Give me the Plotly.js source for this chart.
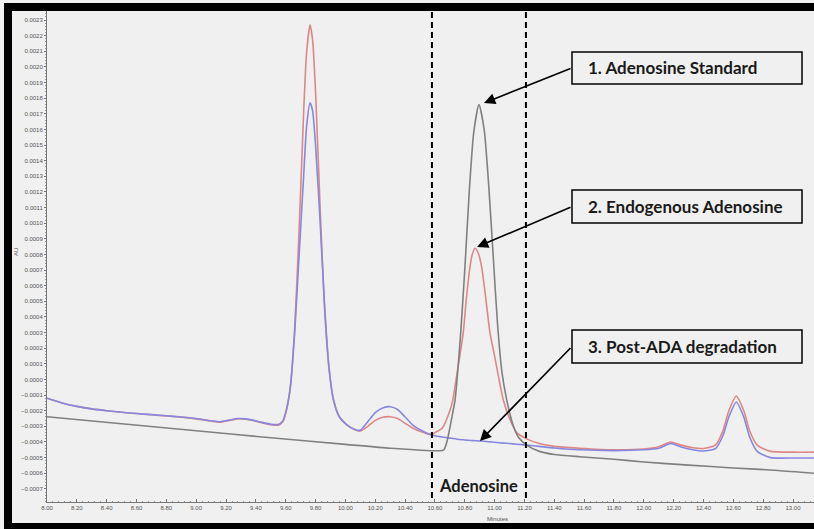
<!DOCTYPE html>
<html>
<head>
<meta charset="utf-8">
<script src="https://cdn.plot.ly/plotly-3.0.1.min.js"></script>
<style>
  html, body { margin: 0; padding: 0; background: #f8f8f8; overflow: hidden; }
  #wrap { position: relative; width: 814px; height: 529px; background: #f0f0f0; }
  #chart { position: absolute; left: 0; top: 0; width: 814px; height: 529px; }
  .bar { position: absolute; background: #000; z-index: 5; }
</style>
</head>
<body>
<div id="wrap">
  <div id="chart"></div>
  <div class="bar" style="left:4px; top:3px; width:810px; height:8px;"></div>
  <div class="bar" style="left:4px; top:3px; width:8px; height:526px;"></div>
  <div class="bar" style="left:4px; top:523px; width:810px; height:6px;"></div>
</div>
<script>
// ---- Data ----
const sampleMinutes = [8.00, 8.10, 8.20, 8.30, 8.40, 8.50, 8.60, 8.70, 8.80, 8.90, 9.00, 9.10, 9.16, 9.22, 9.28, 9.33, 9.38, 9.44, 9.50, 9.55, 9.58, 9.60, 9.63, 9.66, 9.69, 9.72, 9.74, 9.763, 9.78, 9.80, 9.83, 9.86, 9.89, 9.92, 9.96, 10.01, 10.06, 10.10, 10.15, 10.20, 10.25, 10.30, 10.35, 10.40, 10.45, 10.50, 10.55, 10.58, 10.60, 10.65, 10.70, 10.72, 10.75, 10.79, 10.81, 10.835, 10.85, 10.869, 10.89, 10.913, 10.942, 10.969, 11.00, 11.058, 11.10, 11.148, 11.215, 11.30, 11.40, 11.57, 11.80, 12.00, 12.10, 12.18, 12.25, 12.32, 12.40, 12.48, 12.53, 12.57, 12.62, 12.67, 12.71, 12.76, 12.85, 13.00, 13.14];

const endogenousAU = [-0.000120, -0.000150, -0.000172, -0.000188, -0.000200, -0.000210, -0.000218, -0.000226, -0.000233, -0.000241, -0.000252, -0.000266, -0.000273, -0.000262, -0.000252, -0.000254, -0.000262, -0.000277, -0.000290, -0.000292, -0.000270, -0.000218, -0.000052, 0.000325, 0.000961, 0.001706, 0.002094, 0.002270, 0.002173, 0.001840, 0.001110, 0.000460, 0.000070, -0.000130, -0.000240, -0.000290, -0.000320, -0.000330, -0.000300, -0.000262, -0.000242, -0.000238, -0.000250, -0.000280, -0.000310, -0.000332, -0.000348, -0.000352, -0.000340, -0.000310, -0.000200, -0.000130, 0.000050, 0.000300, 0.000510, 0.000720, 0.000800, 0.000840, 0.000810, 0.000720, 0.000510, 0.000300, 0.000150, -0.000130, -0.000250, -0.000340, -0.000380, -0.000410, -0.000428, -0.000440, -0.000450, -0.000445, -0.000430, -0.000400, -0.000420, -0.000435, -0.000442, -0.000420, -0.000330, -0.000200, -0.000106, -0.000200, -0.000330, -0.000420, -0.000460, -0.000465, -0.000465];

const postADA_AU = [-0.000120, -0.000150, -0.000172, -0.000188, -0.000200, -0.000210, -0.000218, -0.000225, -0.000232, -0.000240, -0.000250, -0.000264, -0.000270, -0.000260, -0.000250, -0.000252, -0.000260, -0.000274, -0.000286, -0.000288, -0.000265, -0.000210, -0.000060, 0.000300, 0.000800, 0.001300, 0.001620, 0.001770, 0.001720, 0.001500, 0.001020, 0.000480, 0.000080, -0.000130, -0.000240, -0.000290, -0.000318, -0.000325, -0.000270, -0.000212, -0.000182, -0.000174, -0.000192, -0.000240, -0.000290, -0.000322, -0.000345, -0.000355, -0.000360, -0.000368, -0.000375, -0.000378, -0.000382, -0.000386, -0.000388, -0.000390, -0.000391, -0.000392, -0.000393, -0.000394, -0.000397, -0.000399, -0.000402, -0.000407, -0.000410, -0.000414, -0.000420, -0.000428, -0.000438, -0.000450, -0.000455, -0.000450, -0.000440, -0.000410, -0.000432, -0.000448, -0.000458, -0.000442, -0.000360, -0.000240, -0.000144, -0.000240, -0.000370, -0.000460, -0.000500, -0.000502, -0.000502];

const standardMinutes = [8.00, 8.50, 9.00, 9.50, 10.00, 10.30, 10.63, 10.66, 10.68, 10.70, 10.72, 10.735, 10.77, 10.80, 10.83, 10.86, 10.895, 10.93, 10.96, 10.99, 11.02, 11.05, 11.081, 11.12, 11.16, 11.215, 11.30, 11.40, 11.57, 11.80, 12.00, 12.30, 12.60, 12.90, 13.14];
const standardAU = [-0.000238, -0.000283, -0.000328, -0.000373, -0.000415, -0.000440, -0.000456, -0.000450, -0.000400, -0.000310, -0.000210, -0.000130, 0.000260, 0.000700, 0.001200, 0.001580, 0.001760, 0.001600, 0.001250, 0.000800, 0.000350, 0.000040, -0.000130, -0.000280, -0.000370, -0.000420, -0.000460, -0.000480, -0.000494, -0.000510, -0.000528, -0.000548, -0.000566, -0.000582, -0.000600];

const windowMinutes = [10.58, 11.21];          // dashed adenosine window
const windowLabel = "Adenosine";
const calloutLabels = ["1. Adenosine Standard", "2. Endogenous Adenosine", "3. Post-ADA degradation"];
const xTitle = "Minutes";
const yTitle = "AU";

// ---- Layout geometry (pixels of the 814x529 canvas) ----
const W = 814, H = 529;
const M = { l: 47, r: 0, t: 11, b: 27 };
const plotW = W - M.l - M.r, plotH = H - M.t - M.b;
const px2paperX = px => (px - M.l) / plotW;
const px2paperY = py => (H - M.b - py) / plotH;

const traces = [
  { x: sampleMinutes, y: endogenousAU, type: 'scatter', mode: 'lines', name: 'Endogenous',
    line: { color: 'rgb(222,135,135)', width: 1.6, shape: 'spline', smoothing: 0.6 }, hoverinfo: 'skip' },
  { x: sampleMinutes, y: postADA_AU, type: 'scatter', mode: 'lines', name: 'Post-ADA',
    line: { color: 'rgb(135,135,222)', width: 1.6, shape: 'spline', smoothing: 0.6 }, hoverinfo: 'skip' },
  { x: standardMinutes, y: standardAU, type: 'scatter', mode: 'lines', name: 'Standard',
    line: { color: 'rgb(128,128,128)', width: 1.6, shape: 'spline', smoothing: 0.6 }, hoverinfo: 'skip' }
];

const tickFont = { family: 'Liberation Sans, Arial, sans-serif', size: 6, color: '#555' };
const boxFont = { family: 'Lato, sans-serif', size: 17, color: '#1a1a1a', weight: 'bold' };
const windowFont = { family: 'Lato, sans-serif', size: 16.5, color: '#1a1a1a', weight: 'bold' };

// callout boxes (pixel rectangles)
const boxes = [
  { x0: 572, x1: 802, y0: 52, y1: 84 },
  { x0: 572, x1: 802, y0: 190, y1: 223 },
  { x0: 572, x1: 802, y0: 330, y1: 363 }
];
// arrow heads (pixels)
const heads = [ { x: 484, y: 103 }, { x: 477, y: 247 }, { x: 480, y: 441 } ];

const shapes = [];
windowMinutes.forEach(m => shapes.push({
  type: 'line', xref: 'x', yref: 'paper', x0: m, x1: m, y0: px2paperY(498), y1: 1,
  line: { color: '#000', width: 2, dash: '6px,4px' }
}));
boxes.forEach(b => shapes.push({
  type: 'rect', xref: 'paper', yref: 'paper',
  x0: px2paperX(b.x0), x1: px2paperX(b.x1), y0: px2paperY(b.y1), y1: px2paperY(b.y0),
  line: { color: '#000', width: 1.5 }, fillcolor: 'rgba(0,0,0,0)'
}));

const annotations = [];
boxes.forEach((b, i) => {
  annotations.push({
    xref: 'paper', yref: 'paper', x: px2paperX(b.x0 + 14), y: px2paperY((b.y0 + b.y1) / 2),
    xanchor: 'left', yanchor: 'middle', text: calloutLabels[i], showarrow: false, font: boxFont
  });
  const tail = { x: b.x0, y: (b.y0 + b.y1) / 2 };
  annotations.push({
    xref: 'paper', yref: 'paper', x: px2paperX(heads[i].x), y: px2paperY(heads[i].y),
    ax: tail.x - heads[i].x, ay: tail.y - heads[i].y, text: ' ', font: { size: 1 },
    showarrow: true, arrowhead: 2, arrowsize: 1.4, arrowwidth: 1.6, arrowcolor: '#000', standoff: 0
  });
});
annotations.push({
  xref: 'x', yref: 'paper', x: (windowMinutes[0] + windowMinutes[1]) / 2, y: px2paperY(486),
  xanchor: 'center', yanchor: 'middle', text: windowLabel, showarrow: false, font: windowFont
});
annotations.push({
  xref: 'paper', yref: 'paper', x: px2paperX(497), y: px2paperY(519),
  xanchor: 'center', yanchor: 'middle', text: xTitle, showarrow: false, font: tickFont
});
annotations.push({
  xref: 'paper', yref: 'paper', x: px2paperX(16), y: px2paperY(252),
  xanchor: 'center', yanchor: 'middle', text: yTitle, textangle: -90, showarrow: false, font: tickFont
});

const layout = {
  width: W, height: H,
  margin: M,
  paper_bgcolor: 'rgba(0,0,0,0)', plot_bgcolor: '#f0f0f0',
  showlegend: false,
  xaxis: {
    range: [8.0, 8.0 + plotW / 149.2], tick0: 8, dtick: 0.2, tickformat: '.2f',
    ticks: 'inside', ticklen: 3, tickcolor: '#777', showline: true, linecolor: '#777', linewidth: 1,
    showgrid: false, zeroline: false, tickfont: tickFont,
    minor: { dtick: 0.04, ticks: 'inside', ticklen: 1.5, tickcolor: '#999', showgrid: false }
  },
  yaxis: {
    range: [-0.000784, 0.002358], tick0: 0, dtick: 0.0001, tickformat: '.4f',
    ticks: 'outside', ticklen: 2, tickcolor: '#777', showline: true, linecolor: '#777', linewidth: 1,
    showgrid: false, zeroline: false, tickfont: tickFont,
    minor: { dtick: 0.00002, ticks: 'outside', ticklen: 1, tickcolor: '#999', showgrid: false }
  },
  shapes: shapes,
  annotations: annotations
};

Plotly.newPlot('chart', traces, layout, { staticPlot: true, displayModeBar: false });
</script>
</body>
</html>
